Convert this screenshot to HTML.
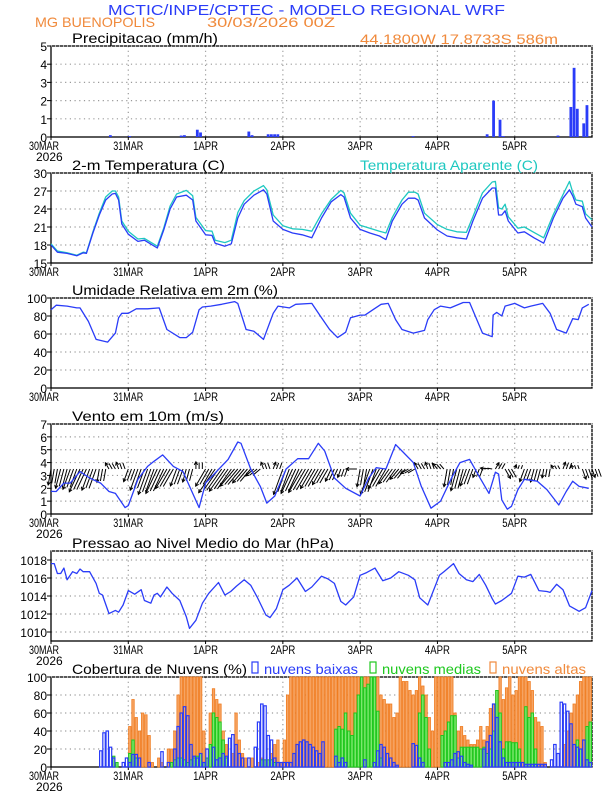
<!DOCTYPE html>
<html><head><meta charset="utf-8"><style>
html,body{margin:0;padding:0;background:#fff;}
svg{display:block;font-family:"Liberation Sans",sans-serif;}
</style></head><body>
<svg id="chart" width="612" height="792" viewBox="0 0 612 792">
<rect x="0" y="0" width="612" height="792" fill="#fff"/>
<text x="108" y="15" textLength="397" lengthAdjust="spacingAndGlyphs" font-size="15" fill="#2a3cf8">MCTIC/INPE/CPTEC - MODELO REGIONAL WRF</text>
<text x="35" y="27" textLength="120" lengthAdjust="spacingAndGlyphs" font-size="14" fill="#f08a3c">MG BUENOPOLIS</text>
<text x="207" y="27" textLength="128" lengthAdjust="spacingAndGlyphs" font-size="14" fill="#f08a3c">30/03/2026 00Z</text>
<text x="360" y="44" textLength="198" lengthAdjust="spacingAndGlyphs" font-size="14" fill="#f08a3c">44.1800W 17.8733S 586m</text>
<g id="plots"></g>
</svg>
<script>
// ---- data ----
const dayLabels = ["30MAR","31MAR","1APR","2APR","3APR","4APR","5APR"];
const precipHours = [19,25,41,42,46,47,62,63,68,69,70,71,113,136,138,140,141,158,162,163,164,166,167];
const precipVals  = [0.1,0.05,0.08,0.1,0.4,0.25,0.3,0.1,0.15,0.15,0.15,0.15,0.05,0.15,2.0,0.95,0.05,0.08,1.65,3.8,1.55,0.75,1.75];
const tempHours = [0,2,5,8,10,11,13,15,17,19,20,21,22,24,
 27,29,33,35,37,39,42,44,45,
 48,50,51,54,56,58,60,63,66,67,69,
 72,75,78,81,84,87,90,91,93,
 96,99,102,104,106,109,111,113,114,116,
 120,123,126,129,131,134,137,138,139,140,141,142,
 145,147,150,153,156,159,161,162,163,165,166,168];
const tempVals = [18,16.8,16.6,16.2,16.7,16.6,20,23,25.5,26.5,26.6,25.5,21.5,19.8,
 18.6,18.8,17.5,20.5,24,26,26.3,25.5,22,
 19.7,19.6,18.3,17.8,18.2,22.5,24.8,26.3,27.2,26.5,22,
 20.6,20,19.7,19.2,22.5,25.2,26.4,26,22.5,
 20.6,20,19.5,18.9,22,24.8,25.8,25.8,25.5,22.5,
 20.5,19.5,19.2,19,22,25.8,27.5,27.5,23,23,23.7,22,
 20,20.2,19.2,18.3,22.5,25.8,27.2,26.2,24.8,24.4,22.5,21];
const apparentVals = [18.2,17,16.7,16.3,16.8,16.7,20.2,23.3,26,27,27,26,22,20.3,
 19,19.1,17.8,20.8,24.5,26.5,27.1,26.2,22.6,
 20.4,20.3,18.8,18.4,18.8,23.4,25.4,27,27.9,27.2,23,
 21.2,20.7,20.6,20.3,23.2,25.6,27.1,26.7,23.3,
 21.3,20.8,20.3,20,22.6,25.5,26.8,26.8,26.5,23.3,
 21.4,20.6,20.2,20.1,22.7,26.7,28.5,28.6,24.2,24,24.8,22.7,
 20.8,21,20.1,19.2,23.1,26.4,28.6,26.8,25.5,25.3,23.2,22.2];
const humHours = [0,1.6,5,8,9,11.6,14,17.6,20,21,22,24,26.5,30,33.6,36,40,42,44,46,47,49.6,53,57,58,60.6,63,66,69,70.5,74,76,81,84,86.5,89,91.5,93,96,97.5,100,102.5,104.7,107,109,112.5,116,117,119,121,124,128,130,134,137,137.3,138.4,140,141,144,147,149,152.7,155,157,160,162,163.7,165,167];
const humVals  = [87,92,91,89,89,74,54,51,61,78,83,83,88,88,89,65,56,56,62,87,90,91,93,96,94,65,63,54,83,91,89,93,94,78,65,56,62,78,81,81,87,93,94,76,65,61,64,76,87,91,89,95,95,61,57,81,84,80,91,94,89,91,94,83,65,61,77,76,89,93];
const windHours = [0,1.6,4,6,9,12,15.4,18,20,23,24,27,30,32,34.7,38,41,44,46,48,51,55,58,59,62,65,67,69.5,73,76.6,80,83,85,88,91.5,96,98.7,101,104,107,109,112.5,115,118,121,124.6,127,130,133,136,138,139,140,141.7,143,145,147,151,154,157.7,160,162,164,167];
const windVals  = [1.76,1.75,2.4,2.4,3.3,2.8,2.4,1.75,1.6,0.5,0.65,2.7,3.7,4.1,4.6,3.7,3.3,1.6,0.5,2.4,3.2,4.25,5.6,5.5,3.5,2.15,0.85,1.4,3.5,4.3,4.3,5.5,4.9,2.8,2.0,1.4,2.8,3.6,3.5,5.4,4.9,4.0,2.15,0.45,1.0,2.9,4.0,4.25,2.9,1.6,3.25,3.1,1.1,0.37,0.6,1.9,2.7,2.55,1.9,0.7,1.75,2.55,2.15,2.0];
const arrowSpd = [1.8,2.2,2.4,2.8,2.5,1.5,0.8,0.8,1.5,2.5,3,3,2.5,2,1.5,0.8,2.2,3.2,3,2.5,2,1.2,0.8,0.8,3,3,3,2.5,2,1.5,1,0.5,2,3,2.5,2,1.5,1,0.8,0.8,0.8,2,2.5,2,1,0.6,0.8,1.2,0.5,1.5,1.5,1,0.5,0.8,0.5,1.2,1.0];
const arrowDir = [10,15,20,25,20,10,150,160,20,20,20,25,30,20,15,180,30,35,35,40,40,50,160,200,20,25,30,30,30,25,20,90,10,20,30,35,40,60,150,160,140,10,15,20,20,100,210,330,200,20,15,10,150,200,160,340,340];
const pressHours = [0,1,2,3,4,5,6.7,8,9,10,12,14,15,16,18,20,21,22.4,24,26,28,29,31,32,33,34,36,37.6,40,42,43,45,47,49,52,54,55.8,57.6,60,62,64,66.7,68,70,72,74,76.4,79,81,84,86,88,90,91.5,94,96,98,100.6,103,105.5,108,111,113,114.5,117,120.6,122,125,126.7,129,131,133,135,137,138,140,143,145,147,149,151.5,154,155,157,159,161,164,166,168];
const pressVals  = [1017.6,1017.6,1016.5,1016.5,1017.1,1015.8,1016.7,1016.5,1017,1016.7,1016.7,1015.4,1014.3,1014.1,1012.05,1012.4,1012.2,1013,1014.6,1014.2,1014.7,1013.5,1013.2,1014.1,1014.3,1013.9,1015,1014.3,1013.5,1011.7,1010.4,1011.3,1013.2,1014.3,1015.5,1014.1,1014.5,1015.1,1015.8,1015.2,1013.9,1011.9,1011.6,1012.6,1014.7,1015.2,1016.0,1014.5,1015,1016.2,1015.9,1015.4,1013.4,1013,1013.9,1016.3,1016.6,1017.1,1015.7,1016,1016.7,1016.3,1015.8,1013.8,1013,1016.3,1016.7,1017.6,1016.5,1015.8,1015.6,1016.4,1015.2,1013.7,1013.1,1013.5,1014.3,1016.2,1016.1,1016.4,1014.6,1014.5,1014.4,1015.3,1014.7,1012.9,1012.3,1012.7,1014.6];
const cloudHigh = [0,0,0,0,0,0,0,0,0,0,0,0,0,0,0,0,0,0,0,0,0,0,0,0,
 45,75,55,40,60,58,35,5,0,10,5,0,20,20,40,80,100,100,100,100,100,100,100,40,
 0,60,87,75,70,40,25,0,15,60,30,15,10,0,10,0,5,10,0,0,15,25,30,5,
 30,80,100,100,100,100,100,100,100,100,100,100,100,100,100,100,100,100,100,100,100,100,100,100,
 100,100,100,100,100,100,80,75,70,70,55,60,100,95,95,85,80,85,100,90,80,55,40,100,
 100,100,100,100,100,60,40,45,35,30,25,25,30,45,30,45,65,70,85,100,75,88,100,80,
 85,100,100,100,95,85,55,50,45,5,0,0,0,0,0,25,40,60,70,80,95,100,100,100];
const cloudMed = [0,0,0,0,0,0,0,0,0,0,0,0,0,0,0,0,0,0,0,12,5,0,0,0,
 15,30,10,0,0,0,0,0,0,0,0,0,0,5,8,10,10,8,5,8,10,12,15,5,
 10,25,60,55,50,30,10,0,0,0,0,0,0,0,0,0,0,8,8,8,8,5,0,0,
 0,0,0,0,0,0,0,0,0,0,0,0,0,0,0,0,42,45,42,60,40,35,60,80,
 100,88,92,100,100,62,10,0,0,0,0,0,0,0,0,0,0,0,60,80,55,20,0,0,
 0,35,40,50,57,57,10,22,22,22,22,22,22,20,22,15,20,40,85,60,20,28,28,27,
 27,20,0,67,55,60,20,0,0,0,0,0,0,0,0,0,0,0,0,30,20,0,45,50];
const cloudLow = [0,0,0,0,0,0,0,0,0,0,0,0,0,0,0,18,38,40,22,10,0,0,5,10,
 5,14,14,10,0,0,5,0,0,0,17,0,5,0,20,45,60,67,57,25,12,10,15,5,
 20,0,22,8,10,15,12,32,36,25,15,10,0,10,0,22,50,70,68,35,30,10,5,5,
 5,5,5,15,25,28,30,28,25,22,18,15,28,0,0,0,12,5,10,5,0,0,0,0,
 0,8,0,0,5,18,25,22,15,10,5,2,0,0,0,0,26,24,10,5,0,0,0,0,
 0,0,5,5,8,15,17,12,5,3,2,0,0,0,20,28,35,70,55,28,10,5,5,5,
 5,5,5,3,3,3,3,3,3,3,0,8,25,15,72,70,62,48,25,22,20,30,8,5];

// ---- layout ----
const NS="http://www.w3.org/2000/svg";
const X0=51, X1=592, HOURS=168;
const hx = h => X0 + h*(X1-X0)/HOURS;
const root=document.getElementById('plots');
function mk(tag, attrs, parent){const e=document.createElementNS(NS,tag);for(const k in attrs)e.setAttribute(k,attrs[k]);(parent||root).appendChild(e);return e;}

const panels = {
 precip:{top:46,bot:137,min:0,max:5,ticks:[0,1,2,3,4,5],year:true},
 temp:{top:173,bot:263,min:15,max:30,ticks:[15,18,21,24,27,30],year:false},
 hum:{top:298,bot:388,min:0,max:100,ticks:[0,20,40,60,80,100],year:false},
 wind:{top:424,bot:514,min:0,max:7,ticks:[0,1,2,3,4,5,6,7],year:true},
 press:{top:551,bot:641,min:1009,max:1019,ticks:[1010,1012,1014,1016,1018],year:true},
 cloud:{top:677,bot:767,min:0,max:100,ticks:[0,20,40,60,80,100],year:true}
};
function yScale(p){return v => p.bot - (v-p.min)/(p.max-p.min)*(p.bot-p.top);}

function frame(key,p){
 const g=mk('g',{});
 
 
 const ys=yScale(p);
 p.ticks.forEach(t=>{
  const y=ys(t);
  if(y>p.top+1 && y<p.bot-1){
   const gl=mk('line',{x1:X0,x2:X1,y1:y,y2:y,stroke:'#9a9a9a','stroke-width':1.2,'stroke-dasharray':'1.2,3.5'},g);
   
   
  }
  const tl=mk('text',{x:47,y:y+5,'text-anchor':'end','font-size':12,fill:'#000'},g);
  
  
  tl.textContent=t;
  mk('line',{x1:X0-4,x2:X0,y1:y,y2:y,stroke:'#000','stroke-width':1},g);
 });
 for(let d=0; d<7; d++){
  const x=hx(d*24);
  if(d>0){
   const vl=mk('line',{x1:x,x2:x,y1:p.top,y2:p.bot,stroke:'#9a9a9a','stroke-width':1.2,'stroke-dasharray':'1.2,3.5'},g);
   
   
  }
  mk('line',{x1:x,x2:x,y1:p.bot,y2:p.bot+3,stroke:'#000','stroke-width':1},g);
  const xl=mk('text',{x:x-(d==0?7:0),y:p.bot+13,'text-anchor':'middle','font-size':12,fill:'#000',textLength:dayLabels[d].length>4?30:25,lengthAdjust:'spacingAndGlyphs'},g);
  
  
  xl.textContent=dayLabels[d];
 }
 if(p.year){
  const yr=mk('text',{x:36,y:p.bot+24,'font-size':12,fill:'#000'},g);
  
  
  yr.textContent='2026';
 }
 const bx=mk('rect',{x:X0,y:p.top,width:X1-X0,height:p.bot-p.top,fill:'none',stroke:'#000','stroke-width':1.3},g);
 
 
 mk('line',{x1:X0,x2:X1,y1:p.top,y2:p.top,stroke:'#fff','stroke-width':0.8,'stroke-dasharray':'1,3'},g);
 mk('line',{x1:X1,x2:X1,y1:p.top,y2:p.bot,stroke:'#fff','stroke-width':0.8,'stroke-dasharray':'1,3'},g);
 return g;
}
function title(txt,x,y,w,color,name){
 const t=mk('text',{x:x,y:y,'font-size':14,fill:color,textLength:w,lengthAdjust:'spacingAndGlyphs'});
 
 
 t.textContent=txt;
 return t;
}
function line(hours,vals,p,color,name){
 const ys=yScale(p);
 const d=hours.map((h,i)=>(i?'L':'M')+hx(h).toFixed(1)+','+ys(vals[i]).toFixed(1)).join(' ');
 const e=mk('path',{d:d,fill:'none',stroke:color,'stroke-width':1.3,'stroke-linejoin':'round'});
 
 
 return e;
}

// precip
let p=panels.precip; frame('precip',p);
title('Precipitacao (mm/h)',72,43,146,'#000','precip-title');
let ys=yScale(p);
precipHours.forEach((h,i)=>{
 const b=mk('rect',{x:hx(h-1),y:ys(precipVals[i]),width:2.8,height:p.bot-ys(precipVals[i]),fill:'#2a3cf8'});
 
 
});

// temperature
p=panels.temp; frame('temp',p);
title('2-m Temperatura (C)',72,170,153,'#000','temp-title');
title('Temperatura Aparente (C)',360,170,178,'#1ec8c0','apparent-temp-title');
line(tempHours,apparentVals,p,'#1ec8c0','apparent-temp-line');
line(tempHours,tempVals,p,'#2a3cf8','temp-line');

// humidity
p=panels.hum; frame('hum',p);
title('Umidade Relativa em 2m (%)',72,295,206,'#000','humidity-title');
line(humHours,humVals,p,'#2a3cf8','humidity-line');

// wind
p=panels.wind; frame('wind',p);
title('Vento em 10m (m/s)',72,421,152,'#000','wind-title');
ys=yScale(p);
const baseY=ys(3.5);
arrowSpd.forEach((s,i)=>{
 const h=i*3, x=hx(h), L=s*9, a=arrowDir[i]*Math.PI/180;
 const dx=-Math.sin(a)*L, dy=Math.cos(a)*L;
 const g=mk('g',{stroke:'#000','stroke-width':1,fill:'none'});
 
 
 mk('line',{x1:x,y1:baseY,x2:x+dx,y2:baseY+dy},g);
 const ang=Math.atan2(dy,dx), hl=3.5;
 const ex=x+dx, ey=baseY+dy;
 mk('path',{d:`M${ex-hl*Math.cos(ang-0.5)},${ey-hl*Math.sin(ang-0.5)} L${ex},${ey} L${ex-hl*Math.cos(ang+0.5)},${ey-hl*Math.sin(ang+0.5)}`},g);
 for(let k=1;k<3;k++){
  const xh=hx(h+k);
  mk('line',{x1:xh,y1:baseY,x2:xh+dx*0.9,y2:baseY+dy*0.9},g);
 }
});
line(windHours,windVals,p,'#2a3cf8','wind-speed-line');

// pressure
p=panels.press; frame('press',p);
title('Pressao ao Nivel Medio do Mar (hPa)',72,548,262,'#000','pressure-title');
line(pressHours,pressVals,p,'#2a3cf8','pressure-line');

// clouds
p=panels.cloud; frame('cloud',p);
title('Cobertura de Nuvens (%)',72,674,175,'#000','cloud-title');
ys=yScale(p);
const bw=(X1-X0)/HOURS;
function bars(arr,fill,stroke,name,sw){
 arr.forEach((v,h)=>{
  if(v<=0) return;
  const b=mk('rect',{x:hx(h)+0.3,y:ys(v),width:bw-0.8,height:p.bot-ys(v),fill:fill,stroke:stroke,'stroke-width':sw});
  
  
 });
}
bars(cloudHigh,'#f6a463','#f07c20','cloud-high-bar',0.8);
bars(cloudMed,'#7ee86e','#1ec81e','cloud-medium-bar',1);
bars(cloudLow,'none','#2a3cf8','cloud-low-bar',1.2);
[['nuvens baixas',252,94,'#2a3cf8','legend-low'],['nuvens medias',370,99,'#1ec81e','legend-medium'],['nuvens altas',490,84,'#f08a3c','legend-high']].forEach(l=>{
 const r=mk('rect',{x:l[1],y:662,width:6,height:11,fill:'none',stroke:l[3],'stroke-width':1.2});
 
 
 title(l[0],l[1]+12,674,l[2],l[3],l[4]+'-label');
});
</script>
</body></html>
